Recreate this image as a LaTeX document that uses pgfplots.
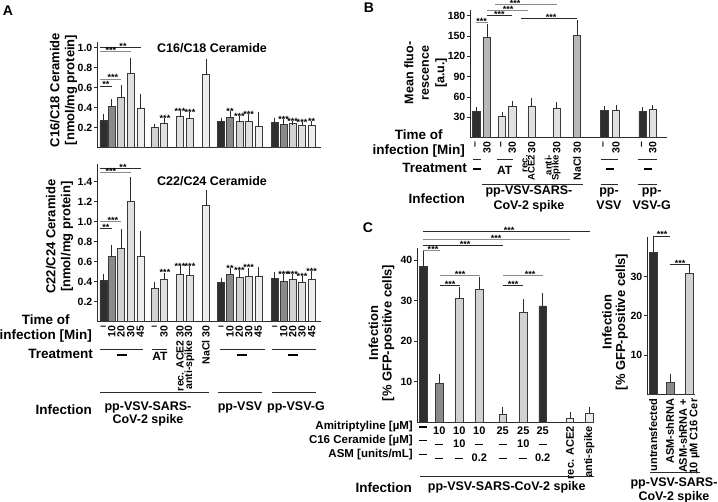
\documentclass[border=0pt]{standalone}
\usepackage{fontspec}
\setmainfont{Liberation Sans}
\usepackage{pgfplots}
\pgfplotsset{compat=1.18}
\usepackage{graphicx}

\definecolor{dk}{HTML}{2E2E2E}
\definecolor{md}{HTML}{8A8A8A}
\definecolor{mg}{HTML}{B8B8B8}
\definecolor{la}{HTML}{D2D2D2}
\definecolor{lb}{HTML}{E0E0E0}
\definecolor{lc}{HTML}{EDEDED}
\definecolor{ed}{HTML}{3A3A3A}
\definecolor{ln}{HTML}{2A2A2A}
\definecolor{lg}{HTML}{8C8C8C}

\newcommand{\fs}[2]{\fontsize{#1}{#2}\selectfont\bfseries}
\newcommand{\dd}{\rule[2.8pt]{8pt}{1.3pt}}
\newcommand{\sig}[6]{\draw[line width=0.8pt,#6] (axis cs:#1,#3) -- (axis cs:#2,#3); \node[st] at (axis cs:#4,#3) {#5};}
\newcommand{\sbar}[3]{\node[st] at (axis cs:#1,#2) {#3};}

\tikzset{st/.style={font=\fs{9}{9}, anchor=base, inner sep=0pt, yshift=-1.8pt}}
\pgfplotsset{
  panel/.style={
    scale only axis, axis lines*=left, clip=false, anchor=south west, ymin=0,
    axis line style={line width=1pt, ln},
    xtick style={draw=none},
    ytick style={line width=0.9pt, ln},
    tick align=outside, major tick length=3pt,
    yticklabel style={font=\fs{10.5}{12}, inner sep=1.5pt},
    /pgf/number format/assume math mode=true,
    ytick pos=left, xtick pos=bottom,
  },
  eb/.style={ybar, bar shift=0pt, draw=ed, line width=0.6pt,
    error bars/y dir=plus, error bars/y explicit, error bars/error mark=-,
    error bars/error mark options={mark size=2pt, line width=0.7pt, ln},
    error bars/error bar style={line width=0.7pt, ln}},
}

\begin{document}
\begin{tikzpicture}
\path[use as bounding box] (0,0) rectangle (718pt,502pt);

% ================= Panel A top =================
\begin{axis}[panel, at={(97pt,354.3pt)}, width=224pt, height=106pt,
  xmin=97, xmax=321, ymax=1.06, bar width=7,
  ytick={0.2,0.4,0.6,0.8,1.0},
  y tick label style={/pgf/number format/.cd, fixed, fixed zerofill, precision=1, /tikz/.cd},
  xtick=\empty]
\addplot[eb, fill=dk] table[x=x,y=y,y error=e] {
x y e
103.3 0.27 0.05
221 0.26 0.02
274.7 0.25 0.03
};
\addplot[eb, fill=md] table[x=x,y=y,y error=e] {
x y e
111.7 0.41 0.06
230 0.30 0.05
283.7 0.23 0.04
};
\addplot[eb, fill=la] table[x=x,y=y,y error=e] {
x y e
121 0.50 0.11
154.3 0.20 0.02
239.3 0.26 0.04
292.7 0.24 0.01
};
\addplot[eb, fill=lb] table[x=x,y=y,y error=e] {
x y e
130.7 0.74 0.14
164 0.24 0.04
180 0.31 0.04
189.3 0.29 0.05
248.7 0.26 0.06
302 0.22 0.02
};
\addplot[eb, fill=lc] table[x=x,y=y,y error=e] {
x y e
140.3 0.39 0.13
206 0.73 0.14
258.3 0.21 0.13
311.7 0.22 0.03
};
\sig{100}{141}{1.004}{123}{**}{ln}
\sig{100}{130.7}{0.96}{111}{***}{lg}
\sig{100}{121}{0.687}{113}{***}{lg}
\sig{100}{111.7}{0.617}{106}{**}{ln}
\sbar{165}{0.28}{***}\sbar{180}{0.35}{***}\sbar{190}{0.34}{***}
\sbar{230}{0.35}{**}\sbar{239.3}{0.30}{***}\sbar{248.7}{0.32}{***}
\sbar{283.7}{0.27}{***}\sbar{292.7}{0.25}{***}\sbar{302}{0.24}{***}\sbar{311.7}{0.25}{**}
\end{axis}

% ================= Panel A bottom =================
\begin{axis}[panel, at={(97pt,180.3pt)}, width=224pt, height=158pt,
  xmin=97, xmax=321, ymax=1.58, bar width=7,
  ytick={0.2,0.4,0.6,0.8,1.0,1.2,1.4},
  y tick label style={/pgf/number format/.cd, fixed, fixed zerofill, precision=1, /tikz/.cd},
  xtick={103.3,111.7,121,130.7,140.3,154.3,164,180,189.3,206,221,230,239.3,248.7,258.3,274.7,283.7,292.7,302,311.7},
  xticklabels={\rotatebox{-90}{--},10,20,30,45,\rotatebox{-90}{--},30,rec. ACE2 30,anti-spike 30,NaCl 30,\rotatebox{-90}{--},10,20,30,45,\rotatebox{-90}{--},10,20,30,45},
  xticklabel style={rotate=90, anchor=east, font=\fs{10.5}{12}, inner sep=1pt}]
\addplot[eb, fill=dk] table[x=x,y=y,y error=e] {
x y e
103.3 0.41 0.05
221 0.39 0.03
274.7 0.43 0.05
};
\addplot[eb, fill=md] table[x=x,y=y,y error=e] {
x y e
111.7 0.65 0.10
230 0.47 0.05
283.7 0.40 0.06
};
\addplot[eb, fill=la] table[x=x,y=y,y error=e] {
x y e
121 0.73 0.18
154.3 0.33 0.05
239.3 0.44 0.06
292.7 0.42 0.04
};
\addplot[eb, fill=lb] table[x=x,y=y,y error=e] {
x y e
130.7 1.20 0.23
164 0.42 0.05
180 0.47 0.07
189.3 0.46 0.08
248.7 0.45 0.07
302 0.39 0.05
};
\addplot[eb, fill=lc] table[x=x,y=y,y error=e] {
x y e
140.3 0.65 0.24
206 1.16 0.14
258.3 0.45 0.08
311.7 0.42 0.07
};
\sig{100}{141}{1.534}{123}{**}{ln}
\sig{100}{130.7}{1.49}{111}{***}{lg}
\sig{100}{121}{1.0}{113}{***}{lg}
\sig{100}{111.7}{0.934}{106}{**}{ln}
\sbar{165}{0.477}{***}\sbar{180}{0.544}{***}\sbar{190}{0.544}{***}
\sbar{230}{0.517}{**}\sbar{239.3}{0.50}{***}\sbar{248.7}{0.527}{***}
\sbar{283.7}{0.457}{***}\sbar{292.7}{0.46}{***}\sbar{302}{0.444}{***}\sbar{311.7}{0.49}{***}
\end{axis}

% ================= Panel B =================
\begin{axis}[panel, at={(470pt,364.4pt)}, width=197pt, height=127.3pt,
  xmin=470, xmax=667, ymax=188, bar width=7.5,
  ytick={30,60,90,120,150,180},
  xtick={476.3,487,502,512.3,531.7,556.7,577,604.3,616,642.7,652.7},
  xticklabels={--,30,--,30,30,30,NaCl 30,--,30,--,30},
  xticklabel style={rotate=90, anchor=east, font=\fs{10.5}{12}, inner sep=1pt}]
\addplot[eb, fill=dk] table[x=x,y=y,y error=e] {
x y e
476.3 38.3 4.0
604.3 39.7 4.3
642.7 38.2 3.6
};
\addplot[eb, fill=mg] table[x=x,y=y,y error=e] {
x y e
487 147.5 17.5
577 151.5 19.6
};
\addplot[eb, fill=lb] table[x=x,y=y,y error=e] {
x y e
502 30.9 3.9
512.3 45.6 5.9
531.7 46.7 8.8
556.7 43.3 5.9
616 39.7 5.9
652.7 41.8 2.9
};
\sig{476}{488}{169.6}{481.7}{***}{lg}
\sig{487}{512}{180}{499.3}{***}{ln}
\sig{487}{528}{187.4}{508}{***}{lg}
\sig{495}{557}{196.8}{515}{***}{lg}
\sig{521}{577}{176.1}{551}{***}{ln}
\end{axis}

% ================= Panel C left =================
\begin{axis}[panel, at={(417pt,79.8pt)}, width=177pt, height=174.2pt,
  xmin=417, xmax=594, ymax=43, bar width=7.5,
  ytick={10,20,30,40},
  xtick={423.3,439.3,459.3,479.3,502.7,523.3,542.7,570,589.3},
  xticklabels={{\dd\\\dd\\\dd},{10\\\dd\\\dd},{10\\10\\\dd},{10\\\dd\\0.2},{25\\\dd\\\dd},{25\\10\\\dd},{25\\\dd\\0.2},\rotatebox{90}{rec. ACE2},\rotatebox{90}{anti-spike}},
  xticklabel style={anchor=north, align=center, font=\fs{11}{13.8}, inner sep=1pt}]
\addplot[eb, fill=dk] table[x=x,y=y,y error=e] {
x y e
423.3 38.5 3.5
542.7 28.7 2.7
};
\addplot[eb, fill=md] table[x=x,y=y,y error=e] {
x y e
439.3 9.6 1.8
};
\addplot[eb, fill=la] table[x=x,y=y,y error=e] {
x y e
459.3 30.6 2.2
479.3 32.8 2.5
502.7 2.0 1.2
523.3 27.1 2.7
};
\addplot[eb, fill=lc] table[x=x,y=y,y error=e] {
x y e
570 1.0 0.95
589.3 2.3 0.9
};
\sig{423}{590}{47.0}{509}{***}{ln}
\sig{423}{570}{45.0}{496}{***}{lg}
\sig{423}{502.7}{43.6}{465}{***}{ln}
\sig{423}{440}{42.4}{433}{***}{lg}
\sig{440}{480}{36.2}{460}{***}{lg}
\sig{440}{460}{33.7}{450}{***}{ln}
\sig{502.7}{542.7}{36.2}{530}{***}{lg}
\sig{502.7}{523}{33.7}{513}{***}{ln}
\end{axis}

% ================= Panel C right =================
\begin{axis}[panel, at={(647pt,107.5pt)}, width=48pt, height=157.2pt,
  xmin=647, xmax=695, ymax=40, bar width=8,
  ytick={10,20,30},
  xtick={653.3,670,689.3},
  xticklabels={untransfected,ASM-shRNA,{ASM-shRNA +\\10 µM C16 Cer}},
  xticklabel style={rotate=90, anchor=east, align=right, font=\fs{11}{10.5}, inner sep=1pt}]
\addplot[eb, fill=dk] table[x=x,y=y,y error=e] {
x y e
653.3 36.3 3.4
};
\addplot[eb, fill=md] table[x=x,y=y,y error=e] {
x y e
670 3.1 1.7
};
\addplot[eb, fill=la] table[x=x,y=y,y error=e] {
x y e
689.3 30.8 1.6
};
\sig{653}{670}{40.3}{662}{***}{ln}
\sig{670}{690}{33.0}{680}{***}{ln}
\end{axis}

% ================= Text and annotation (panel A) =================
\node[font=\fs{14}{14}] at (8pt,491pt) {A};
\node[font=\fs{14}{14}] at (369pt,494pt) {B};
\node[font=\fs{14}{14}] at (368pt,274pt) {C};

\node[font=\fs{12.5}{14}] at (212pt,454.3pt) {C16/C18 Ceramide};
\node[font=\fs{12.5}{14}] at (212pt,321pt) {C22/C24 Ceramide};
\node[rotate=90, align=center, font=\fs{13}{15}] at (63.5pt,412pt) {C16/C18 Ceramide\\{}[nmol/mg protein]};
\node[rotate=90, align=center, font=\fs{13}{15}] at (59.6pt,265.3pt) {C22/C24 Ceramide\\{}[nmol/mg protein]};

\node[anchor=east, align=center, font=\fs{13.5}{15}, inner sep=0pt] at (92pt,173.8pt) {Time of\\infection {[}Min{]}};
\node[anchor=east, font=\fs{13.5}{15}, inner sep=0pt] at (93pt,148pt) {Treatment};
\node[anchor=east, font=\fs{13.5}{15}, inner sep=0pt] at (92pt,92pt) {Infection};
\foreach \a/\b in {100/143,152/167,220/265,272/316} \draw[line width=1pt, ln] (\a pt,152.7pt) -- (\b pt,152.7pt);
\foreach \a in {121.7,241.7,293.3} \node[inner sep=0pt] at (\a pt,147pt) {\rule{10pt}{1.5pt}};
\node[font=\fs{12}{12}] at (160pt,146pt) {AT};
\foreach \a/\b in {100/209.3,218/262,272/316} \draw[line width=1pt, ln] (\a pt,109.7pt) -- (\b pt,109.7pt);
\node[align=center, font=\fs{12.5}{13.5}] at (148pt,88pt) {pp-VSV-SARS-\\CoV-2 spike};
\node[font=\fs{12.5}{13.5}] at (240pt,94.7pt) {pp-VSV};
\node[font=\fs{12.5}{13.5}] at (296pt,94.7pt) {pp-VSV-G};

% ================= Text (panel B) =================
\node[rotate=90, align=center, font=\fs{12.5}{15.5}] at (425.7pt,429pt) {Mean fluo-\\rescence\\{}[a.u.]};
\node[anchor=east, align=center, font=\fs{13.5}{15}, inner sep=0pt] at (465pt,358.5pt) {Time of\\infection {[}Min{]}};
\node[anchor=east, font=\fs{13.5}{15}, inner sep=0pt] at (467pt,333.7pt) {Treatment};
\node[anchor=east, font=\fs{13.5}{15}, inner sep=0pt] at (465pt,303pt) {Infection};
\foreach \a/\b in {472.7/480.7,497/513,600.7/618.3,638.3/656.7} \draw[line width=1pt, ln] (\a pt,342pt) -- (\b pt,342pt);
\foreach \a in {476.7,609.5,647.5} \node[inner sep=0pt] at (\a pt,333pt) {\rule{8pt}{1.5pt}};
\node[font=\fs{12}{12}] at (504.7pt,332pt) {AT};
\node[rotate=90, anchor=east, align=right, font=\fs{9.5}{7}, inner sep=0pt] at (528.6pt,347pt) {rec.\\ACE2};
\node[rotate=90, anchor=east, align=right, font=\fs{9.5}{7}, inner sep=0pt] at (552.6pt,347pt) {anti-\\Spike};
\foreach \a/\b in {481.7/583.3,600.7/618.3,638.3/656.7} \draw[line width=1pt, ln] (\a pt,317pt) -- (\b pt,317pt);
\node[align=center, font=\fs{12.5}{15}] at (529pt,302.8pt) {pp-VSV-SARS-\\CoV-2 spike};
\node[align=center, font=\fs{12.5}{15}] at (609pt,303pt) {pp-\\VSV};
\node[align=center, font=\fs{12.5}{15}] at (651.7pt,303pt) {pp-\\VSV-G};

% ================= Text (panel C) =================
\node[rotate=90, align=center, font=\fs{13}{13.5}] at (381.5pt,169pt) {Infection\\{}[\% GFP-positive cells]};
\node[rotate=90, align=center, font=\fs{13}{13.5}] at (615pt,180pt) {Infection\\{}[\% GFP-positive cells]};
\node[anchor=east, font=\fs{11.5}{12}, inner sep=0pt] at (413pt,75.3pt) {Amitriptyline [µM]};
\node[anchor=east, font=\fs{11.5}{12}, inner sep=0pt] at (413pt,61pt) {C16 Ceramide [µM]};
\node[anchor=east, font=\fs{11.5}{12}, inner sep=0pt] at (413pt,47.7pt) {ASM [units/mL]};
\draw[line width=1pt, ln] (420pt,25.3pt) -- (594pt,25.3pt);
\node[anchor=east, font=\fs{13.5}{15}, inner sep=0pt] at (412pt,14.3pt) {Infection};
\node[font=\fs{12.5}{14}] at (506.7pt,14.3pt) {pp-VSV-SARS-CoV-2 spike};
\draw[line width=1pt, ln] (650pt,29.7pt) -- (700pt,29.7pt);
\node[align=center, font=\fs{12.5}{14}] at (674pt,12pt) {pp-VSV-SARS-\\CoV-2 spike};
\end{tikzpicture}
\end{document}
